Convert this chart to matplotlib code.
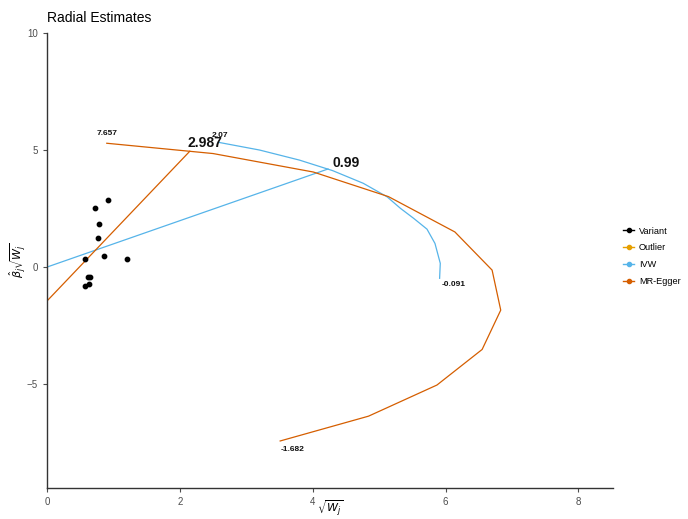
import numpy as np
import matplotlib.pyplot as plt
from matplotlib.lines import Line2D

# ----------------------------------------------------------------------------------------
# Datos
# ----------------------------------------------------------------------------------------
variant_x = [0.92, 0.72, 0.78, 0.77, 0.86, 1.20, 0.57, 0.61, 0.64, 0.63, 0.57]
variant_y = [2.86, 2.52, 1.84, 1.24, 0.47, 0.34, 0.36, -0.43, -0.43, -0.73, -0.81]

ivw_line_x = [0.0, 4.23]
ivw_line_y = [0.0, 4.19]
ivw_arc_x = [2.58, 3.20, 3.80, 4.30, 4.76, 5.12, 5.32, 5.52, 5.72, 5.84, 5.92, 5.91]
ivw_arc_y = [5.33, 5.00, 4.57, 4.12, 3.58, 3.00, 2.51, 2.08, 1.62, 1.01, 0.16, -0.48]

egger_line_x = [0.0, 2.15]
egger_line_y = [-1.45, 4.95]
egger_arc_x = [0.90, 2.50, 4.01, 5.14, 6.14, 6.70, 6.83, 6.55, 5.87, 4.84, 3.51]
egger_arc_y = [5.29, 4.85, 4.06, 3.01, 1.50, -0.13, -1.84, -3.52, -5.04, -6.37, -7.43]

# etiquetas: texto, x, y, tamano
etiquetas = ['7.657', '2.987', '2.07', '0.99', '-0.091', '-1.682']
etiq_x = [0.90, 2.38, 2.60, 4.50, 6.12, 3.70]
etiq_y = [5.72, 5.30, 5.62, 4.44, -0.73, -7.78]
etiq_tam = [6, 10, 6, 10, 6, 6]

leyenda = ['Variant', 'Outlier', 'IVW', 'MR-Egger']
colores = ['#000000', '#E69F00', '#56B4E9', '#D55E00']

# ----------------------------------------------------------------------------------------
# Grafico
# ----------------------------------------------------------------------------------------
fig = plt.figure(figsize=(6.88, 5.19), dpi=100)
ax = fig.add_axes([0.0683, 0.0597, 0.8227, 0.8767])

ax.plot(ivw_line_x, ivw_line_y, color=colores[2], lw=0.9)
ax.plot(ivw_arc_x, ivw_arc_y, color=colores[2], lw=0.9)
ax.plot(egger_line_x, egger_line_y, color=colores[3], lw=0.9)
ax.plot(egger_arc_x, egger_arc_y, color=colores[3], lw=0.9)
ax.scatter(variant_x, variant_y, color='black', s=10, zorder=3)

for t, x, y, s in zip(etiquetas, etiq_x, etiq_y, etiq_tam):
    ax.text(x, y, t, fontsize=s, ha='center', va='center', fontweight='bold',
            family='Liberation Sans', color='#111111')

ax.set_xlim(0, 8.52)
ax.set_ylim(-9.44, 10)
ax.set_xticks([0, 2, 4, 6, 8])
ax.set_yticks([-5, 0, 5, 10])
for s in ['top', 'right']:
    ax.spines[s].set_visible(False)
for s in ['left', 'bottom']:
    ax.spines[s].set_color('#333333')
    ax.spines[s].set_linewidth(1.0)
ax.tick_params(axis='both', labelsize=7, colors='#4d4d4d', length=3, width=0.8,
               labelfontfamily='Liberation Sans')

ax.set_xlabel(r'$\sqrt{W_j}$', fontsize=8, va='center')
ax.set_ylabel(r'$\hat{\beta}_j\sqrt{W_j}$', fontsize=8, va='center')
ax.xaxis.set_label_coords(0.5, -0.045)
ax.yaxis.set_label_coords(-0.05, 0.5)
fig.text(0.0683, 0.966, 'Radial Estimates', fontsize=10, family='Liberation Sans',
         ha='left', va='center')

manejadores = [Line2D([0], [0], color=c, lw=1, marker='o', markersize=3) for c in colores]
fig.legend(manejadores, leyenda, loc='center left', bbox_to_anchor=(0.906, 0.506),
           frameon=False, handlelength=1.2, handletextpad=0.5, labelspacing=0.85,
           borderaxespad=0, borderpad=0,
           prop={'family': 'Liberation Sans', 'size': 6.6})

fig.savefig('out.png', dpi=100)
